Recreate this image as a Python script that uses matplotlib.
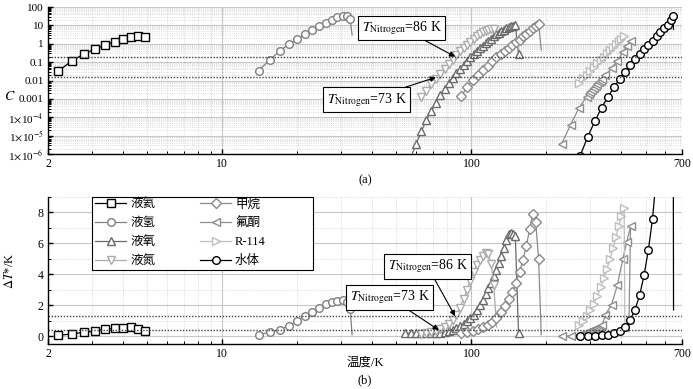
import matplotlib
matplotlib.use('Agg')
import matplotlib.pyplot as plt
from matplotlib.patches import Rectangle
from matplotlib.ticker import FixedLocator, NullFormatter, LogLocator, MultipleLocator

plt.rcParams['font.family'] = ['Liberation Serif', 'Noto Sans CJK SC']
plt.rcParams['mathtext.fontset'] = 'stix'

# liquid helium
he_T = [2.2, 2.5, 2.8, 3.1, 3.4, 3.7, 4.0, 4.3, 4.6, 4.9]
he_C = [0.033, 0.12, 0.29, 0.52, 0.89, 1.3, 1.8, 2.4, 2.8, 2.4]
he_dT = [0.06, 0.15, 0.26, 0.34, 0.45, 0.51, 0.55, 0.58, 0.49, 0.34]

# liquid hydrogen
h2_T = [14, 15.5, 17, 18.5, 20, 21.5, 23, 24.5, 26, 27.5, 29, 30.5, 31.7, 32.6]
h2_C = [0.035, 0.13, 0.41, 0.94, 1.8, 3.3, 5.6, 9.3, 14, 20, 27, 33, 32, 22]
h2_dT = [0.1, 0.26, 0.42, 0.69, 0.98, 1.31, 1.56, 1.83, 2.08, 2.24, 2.3, 2.35, 2.21, 1.76]

# liquid oxygen
o2_T = [54, 57, 60, 63, 66, 69, 72, 75, 78, 81, 84, 87, 90, 93, 96, 99, 102,
        105, 108, 111, 114, 117, 120, 123, 126, 129, 132, 135, 138, 141, 144,
        147, 150, 154.5]
o2_C = [1e-7, 6.3e-7, 3.5e-6, 1.8e-5, 7.1e-5, 2.2e-4, 6.3e-4, 1.6e-3, 3.5e-3,
        7.4e-3, 0.014, 0.025, 0.044, 0.072, 0.12, 0.18, 0.28, 0.40, 0.56, 0.78,
        1.07, 1.45, 1.9, 2.5, 3.2, 4.0, 4.8, 5.8, 6.8, 7.8, 8.7, 9.5, 10, 0.27]
o2_dT = [0.2, 0.2, 0.2, 0.2, 0.2, 0.2, 0.2, 0.22, 0.27, 0.34, 0.43, 0.53, 0.64,
         0.8, 0.97, 1.15, 1.4, 1.7, 2.05, 2.35, 2.7, 3.1, 3.45, 3.9, 4.3, 4.75,
         5.2, 5.7, 6.2, 6.6, 6.7, 6.6, 6.45, 0.2]

# liquid nitrogen
n2_T = [63, 66, 69, 72, 75, 78, 81, 84, 87, 90, 93, 96, 99, 102, 105, 108,
        111, 114, 117, 120, 123]
n2_C = [1.2e-3, 2.8e-3, 6.3e-3, 0.0126, 0.024, 0.044, 0.076, 0.138, 0.23, 0.38,
        0.60, 0.91, 1.32, 1.86, 2.6, 3.3, 4.2, 5.0, 5.8, 6.2, 6.3]
n2_dT = [0.15, 0.2, 0.27, 0.35, 0.45, 0.62, 0.82, 1.08, 1.4, 1.85, 2.4, 3.0,
         3.6, 4.15, 4.6, 4.95, 5.2, 5.35, 5.3, 4.7, 3.3]

# methane
ch4_T = [91, 96, 101, 106, 111, 116, 121, 126, 131, 136, 141, 146, 151, 156,
         161, 166, 171, 176, 181, 186]
ch4_C = [1.4e-3, 4.2e-3, 0.011, 0.021, 0.037, 0.065, 0.11, 0.19, 0.28, 0.41,
         0.58, 0.83, 1.2, 1.7, 2.5, 3.5, 4.9, 6.8, 9.3, 12.6]
ch4_dT = [0.2, 0.28, 0.35, 0.45, 0.58, 0.72, 0.95, 1.2, 1.55, 1.95, 2.4, 2.85,
          3.45, 4.15, 4.95, 5.8, 6.9, 7.9, 7.4, 5.0]

# fluoroketone
fk_T = [230, 250, 270, 290, 295, 300, 305, 310, 315, 320, 325, 330, 335, 345,
        365, 385, 405, 420, 435]
fk_C = [3.5e-6, 4.0e-5, 3.2e-4, 1.3e-3, 1.8e-3, 2.3e-3, 3.0e-3, 3.9e-3, 5.0e-3,
        6.3e-3, 7.9e-3, 0.010, 0.0126, 0.019, 0.048, 0.12, 0.35, 0.79, 1.5]
fk_dT = [0.0, 0.02, 0.08, 0.25, 0.3, 0.35, 0.4, 0.45, 0.5, 0.55, 0.6, 0.68,
         0.75, 1.4, 2.05, 3.3, 5.0, 6.1, 7.1]

# R-114
r114_T = [270, 280, 290, 300, 310, 320, 330, 340, 350, 360, 370, 380, 390, 400, 410]
r114_C = [7.6e-3, 0.013, 0.021, 0.034, 0.054, 0.085, 0.13, 0.2, 0.30, 0.45,
          0.66, 0.98, 1.4, 1.9, 2.5]
r114_dT = [0.7, 1.0, 1.3, 1.7, 2.1, 2.6, 3.15, 3.75, 4.35, 5.0, 5.7, 6.4, 7.1,
           7.8, 8.3]

# water
w_T = [273, 293, 313, 333, 353, 373, 393, 413, 433, 453, 473, 493, 513, 533,
       553, 573, 593, 613, 633, 643]
w_C = [8e-7, 8.9e-6, 6.3e-5, 3.4e-4, 1.3e-3, 4.3e-3, 0.012, 0.030, 0.069, 0.14,
       0.28, 0.50, 0.87, 1.5, 2.5, 4.1, 6.8, 11, 20, 32]
w_dT = [0.0, 0.0, 0.02, 0.05, 0.1, 0.2, 0.35, 0.6, 1.05, 1.7, 2.65, 3.95, 5.6,
        7.6, 10.5, 14, 18, 23, 28, 30]

# end points of the curves at the critical temperature (drawn without marker)
top_end = {'h2': (33.2, 3.0), 'ch4': (190.6, 0.46), 'w': (647, 6.2)}
bot_end = {'h2': (33.2, 0.1), 'n2': (126, 0.6), 'ch4': (190.6, 0.1),
           'fk': (428, 0.3), 'r114': (413, 0.3), 'w': (647, 1.7)}

# nitrogen reference levels at 73 K and 86 K
C_ref = [0.015, 0.2]
dT_ref = [0.38, 1.28]

series = [
    ('he', '液氦', he_T, he_C, he_dT, 's', 'black', 5.5),
    ('h2', '液氢', h2_T, h2_C, h2_dT, 'o', '#808080', 5.5),
    ('o2', '液氧', o2_T, o2_C, o2_dT, '^', '#6a6a6a', 5.5),
    ('n2', '液氮', n2_T, n2_C, n2_dT, 'v', '#ababab', 5.5),
    ('ch4', '甲烷', ch4_T, ch4_C, ch4_dT, 'D', '#8a8a8a', 4.6),
    ('fk', '氟酮', fk_T, fk_C, fk_dT, '<', '#8e8e8e', 5.5),
    ('r114', 'R-114', r114_T, r114_C, r114_dT, '>', '#bebebe', 5.5),
    ('w', '水体', w_T, w_C, w_dT, 'o', 'black', 5.5),
]

fig = plt.figure(figsize=(6.93, 3.89), dpi=100)
ax1 = fig.add_axes([0.0693, 0.604, 0.9149, 0.378])
ax2 = fig.add_axes([0.0693, 0.1157, 0.9149, 0.378])


def draw(ax, T, y, end, marker, color, ms, label):
    xs = list(T)
    ys = list(y)
    if end is not None:
        xs.append(end[0])
        ys.append(end[1])
    ax.plot(xs, ys, color=color, lw=0.9, marker=marker, ms=ms, mfc='white',
            mec=color, mew=1.0, markevery=slice(0, len(T)), label=label)


for key, name, T, C, dT, mk, col, ms in series:
    draw(ax1, T, C, top_end.get(key), mk, col, ms, name)
    draw(ax2, T, dT, bot_end.get(key), mk, col, ms, name)

for ax in (ax1, ax2):
    ax.set_xscale('log')
    ax.set_xlim(2, 700)
    ax.xaxis.set_major_locator(FixedLocator([2, 10, 100, 700]))
    ax.set_xticklabels(['2', '10', '100', '700'])
    ax.xaxis.set_minor_locator(LogLocator(base=10, subs=range(2, 10), numticks=20))
    ax.xaxis.set_minor_formatter(NullFormatter())
    ax.grid(True, which='major', color='#c8c8c8', lw=0.8, ls='-')
    ax.grid(True, which='minor', color='#cfcfcf', lw=0.6, ls=':')
    ax.set_axisbelow(True)
    ax.spines['top'].set_visible(False)
    ax.spines['right'].set_visible(False)
    ax.spines['left'].set_linewidth(1.0)
    ax.spines['bottom'].set_linewidth(1.0)
    ax.tick_params(which='major', direction='in', length=3.5, width=1.0,
                   labelsize=8.5, top=False, right=False, pad=3)
    ax.tick_params(which='minor', direction='in', length=2, width=0.7,
                   top=False, right=False)

# top panel
ax1.set_yscale('log')
ax1.set_ylim(1e-6, 100)
ax1.yaxis.set_major_locator(FixedLocator([1e-6, 1e-5, 1e-4, 1e-3, 1e-2, 0.1, 1, 10, 100]))
ax1.set_yticklabels([r'1$\!\times\!$10$^{-6}$', r'1$\!\times\!$10$^{-5}$',
                     r'1$\!\times\!$10$^{-4}$', '0.001', '0.01', '0.1', '1', '10', '100'])
ax1.yaxis.set_minor_locator(LogLocator(base=10, subs=range(2, 10), numticks=20))
ax1.yaxis.set_minor_formatter(NullFormatter())
ax1.tick_params(axis='y', which='major', labelsize=8)
ax1.set_ylabel('$C$', fontsize=10, rotation=0, ha='center', va='center')
ax1.yaxis.set_label_coords(-0.061, 0.39)
for c in C_ref:
    ax1.axhline(c, color='#444444', lw=1.0, ls=(0, (1, 1.2)))

# bottom panel
ax2.set_ylim(-0.5, 9)
ax2.yaxis.set_major_locator(FixedLocator([0, 2, 4, 6, 8]))
ax2.yaxis.set_minor_locator(MultipleLocator(1))
ax2.set_ylabel(r'$\Delta T$*/K', fontsize=9)
ax2.yaxis.set_label_coords(-0.05, 0.5)
for d in dT_ref:
    ax2.axhline(d, color='#444444', lw=1.0, ls=(0, (1, 1.2)))

box = dict(boxstyle='square,pad=0.25', fc='white', ec='black', lw=0.8)
arrow = dict(arrowstyle='-|>', color='black', lw=0.8, shrinkA=0, shrinkB=0,
             mutation_scale=8)
ax1.annotate(r'$T_{\mathrm{Nitrogen}}$=86 K', xy=(86, 0.2), xytext=(52.5, 7.2),
             ha='center', va='center', fontsize=10, bbox=box, arrowprops=arrow)
ax1.annotate(r'$T_{\mathrm{Nitrogen}}$=73 K', xy=(72, 0.015), xytext=(38, 9e-4),
             ha='center', va='center', fontsize=10, bbox=box, arrowprops=arrow)
ax2.annotate(r'$T_{\mathrm{Nitrogen}}$=86 K', xy=(86, 1.3), xytext=(66.7, 4.5),
             ha='center', va='center', fontsize=10, bbox=box, arrowprops=arrow)
ax2.annotate(r'$T_{\mathrm{Nitrogen}}$=73 K', xy=(74, 0.4), xytext=(47, 2.5),
             ha='center', va='center', fontsize=10, bbox=box, arrowprops=arrow)

# legend frame drawn separately (the original box is wider than its entries)
ax2.add_patch(Rectangle((0.0694, 0.503), 0.3486, 0.497, transform=ax2.transAxes,
                        fc='white', ec='black', lw=0.8, zorder=4, clip_on=False))
ax2.legend(loc='upper left', bbox_to_anchor=(0.0741, 0.993), ncol=2,
           fontsize=9, handlelength=2.5, handletextpad=0.3, columnspacing=3.6,
           labelspacing=0.55, borderpad=0, borderaxespad=0, frameon=False)

fig.text(0.5267, 0.537, '(a)', ha='center', va='center', fontsize=9)
fig.text(0.5267, 0.067, '温度/K', ha='center', va='center', fontsize=9)
fig.text(0.5267, 0.023, '(b)', ha='center', va='center', fontsize=9)

fig.savefig('out.png', dpi=100)
